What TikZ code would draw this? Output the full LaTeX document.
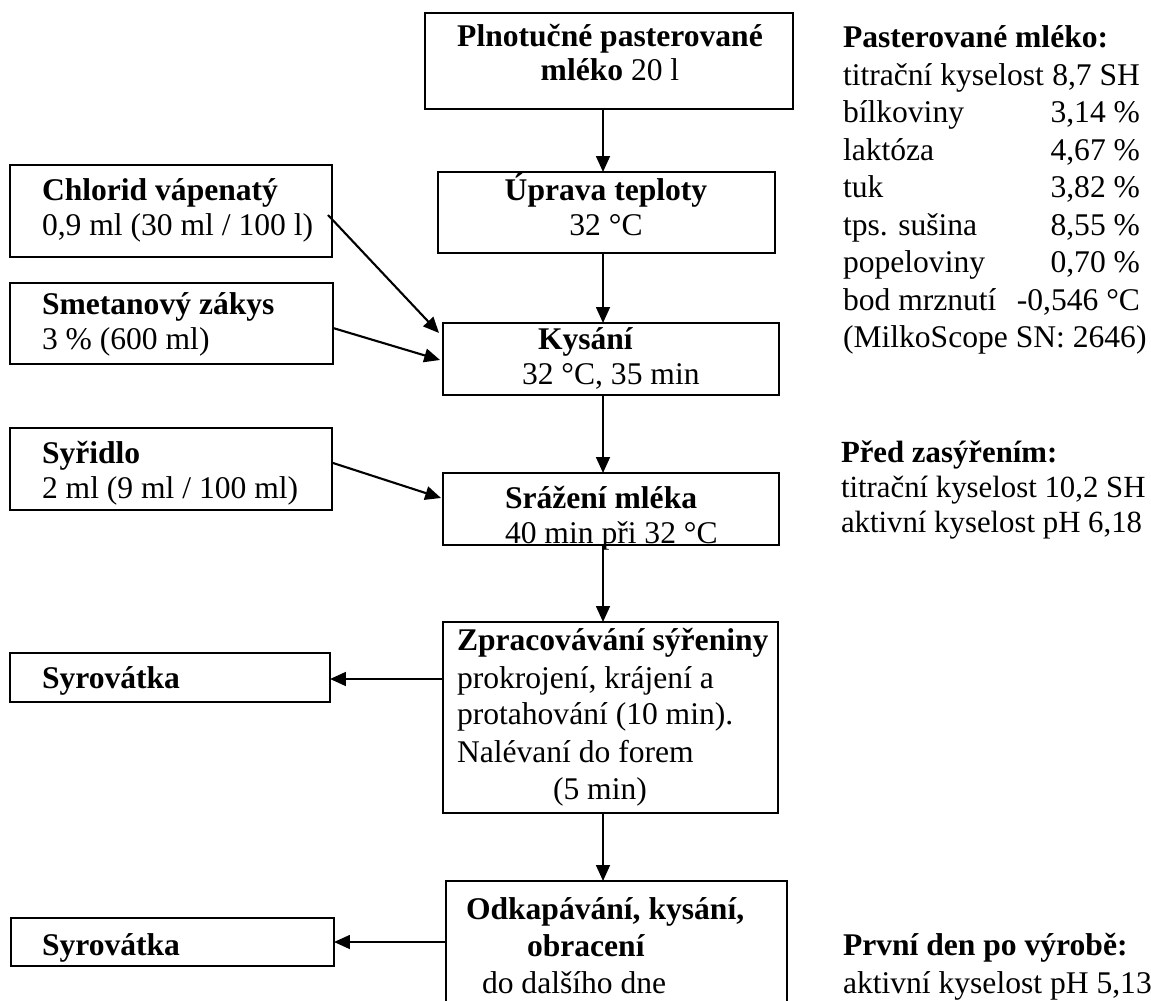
\documentclass[tikz,border=0pt]{standalone}
\usepackage{fontspec}
\setmainfont{Liberation Serif}
\usetikzlibrary{arrows.meta,fit,calc}

% one drawing unit
\newlength\ux
\setlength\ux{0.38pt}
% stack of lines with a fixed distance between baselines
\newcommand{\lineblock}[2]{\vtop{\baselineskip=#1\ux\lineskiplimit=-\maxdimen\lineskip=0pt #2}}
% label on the left, value flush right
\newcommand{\valrow}[2]{\hbox to 297\ux{#1\hfill #2}}

\tikzset{
  box/.style={draw, line width=0.8pt, rectangle, inner sep=0pt, outer sep=0pt},
  txt/.style={anchor=base west, inner sep=0pt, outer sep=0pt, font=\fontsize{12}{14}\selectfont},
  txtc/.style={anchor=base, inner sep=0pt, outer sep=0pt, font=\fontsize{12}{14}\selectfont},
  arr/.style={-{Triangle[length=6pt,width=5.2pt]}, line width=0.8pt},
}

\begin{document}
\begin{tikzpicture}[x=0.38pt, y=-0.38pt]
\clip (0,0) rectangle (1151,1001);
\fill[white] (0,0) rectangle (1151,1001);

\coordinate (axis) at (603,0);

% ---- main process chain ----
\node[box, fit={(425,13) (793,109)}] (milk) {};
\node[txtc] at (610,47) (milkT) {\lineblock{34}{%
  \hbox to 340\ux{\hss\textbf{Plnotučné pasterované}\hss}%
  \hbox to 340\ux{\hss\textbf{mléko} 20~l\hss}}};

\node[box, fit={(438,172) (775,253)}] (temp) {};
\node[txtc] at (606,201) (tempT) {\lineblock{35}{%
  \hbox to 300\ux{\hss\textbf{Úprava teploty}\hss}%
  \hbox to 300\ux{\hss 32~°C\hss}}};

\node[box, fit={(443,323) (779,395)}] (sour) {};
\node[txt] at (522,350) (sourT) {\lineblock{35}{%
  \hbox{\hspace*{16\ux}\textbf{Kysání}}%
  \hbox{32~°C, 35~min}}};

\node[box, fit={(443,473) (779,545)}] (curd) {};
\node[txt] at (505,509) (curdT) {\lineblock{35}{%
  \hbox{\textbf{Srážení mléka}}%
  \hbox{40 min při 32~°C}}};

\node[box, fit={(443,622) (778,813)}] (proc) {};
\node[txt] at (457,651) (procT) {\lineblock{37}{%
  \hbox{\textbf{Zpracovávání sýřeniny}}%
  \hbox{prokrojení, krájení a}%
  \hbox{protahování (10 min).}%
  \hbox{Nalévaní do forem}%
  \hbox{\hspace*{96\ux}(5 min)}}};

\node[box, fit={(446,881) (787,1020)}] (drip) {};
\node[txt] at (466,919) (dripT) {\lineblock{37}{%
  \hbox{\textbf{Odkapávání, kysání,}}%
  \hbox{\hspace*{61\ux}\textbf{obracení}}%
  \hbox{\hspace*{16\ux}do dalšího dne}}};

% ---- inputs ----
\node[box, fit={(10,165) (332,257)}] (cacl) {};
\node[txt] at (42,201) (caclT) {\lineblock{35}{%
  \hbox{\textbf{Chlorid vápenatý}}%
  \hbox{0,9 ml (30 ml / 100 l)}}};

\node[box, fit={(10,283) (333,364)}] (cult) {};
\node[txt] at (42,315) (cultT) {\lineblock{35}{%
  \hbox{\textbf{Smetanový zákys}}%
  \hbox{3~\% (600 ml)}}};

\node[box, fit={(10,428) (332,510)}] (rennet) {};
\node[txt] at (42,464) (rennetT) {\lineblock{35}{%
  \hbox{\textbf{Syřidlo}}%
  \hbox{2 ml (9 ml / 100 ml)}}};

% ---- outputs ----
\node[box, fit={(10,653) (330,702)}] (whey1) {};
\node[txt] at (42,688) (whey1T) {\textbf{Syrovátka}};

\node[box, fit={(11,918) (334,966)}] (whey2) {};
\node[txt] at (42,955) (whey2T) {\textbf{Syrovátka}};

% ---- measured values ----
\node[txt] at (843,48) (milkData) {\lineblock{37.5}{%
  \hbox{\textbf{Pasterované mléko:}}%
  \valrow{titrační kyselost}{8,7 SH}%
  \valrow{bílkoviny}{3,14~\%}%
  \valrow{laktóza}{4,67~\%}%
  \valrow{tuk}{3,82~\%}%
  \valrow{tps. sušina}{8,55~\%}%
  \valrow{popeloviny}{0,70~\%}%
  \valrow{bod mrznutí}{-0,546~°C}%
  \hbox{(MilkoScope SN: 2646)}}};

\node[txt, font=\fontsize{11.7}{14}\selectfont] at (841,463) (preData) {\lineblock{35}{%
  \hbox{\textbf{Před zasýřením:}}%
  \hbox{titrační kyselost 10,2 SH}%
  \hbox{aktivní kyselost pH 6,18}}};

\node[txt] at (843,955) (dayData) {\lineblock{38}{%
  \hbox{\textbf{První den po výrobě:}}%
  \hbox{aktivní kyselost pH 5,13}}};

% ---- connectors ----
\draw[arr] (milk.south -| axis) -- (temp.north -| axis);
\draw[arr] (temp.south -| axis) -- (sour.north -| axis);
\draw[arr] (sour.south -| axis) -- (curd.north -| axis);
\draw[arr] (curd.south -| axis) -- (proc.north -| axis);
\draw[arr] (proc.south -| axis) -- (drip.north -| axis);

\draw[arr] ($(cacl.north east)+(-4,50)$) -- ($(sour.north west)+(-4,10)$);
\draw[arr] ($(cult.north east)+(0,45)$) -- ($(sour.north west)+(-3,37)$);
\draw[arr] ($(rennet.north east)+(1,35)$) -- ($(curd.north west)+(-2,25)$);

\draw[arr] ($(proc.north west)+(0,57)$) -- ($(whey1.north east)+(0,26)$);
\draw[arr] ($(drip.north west)+(0,61)$) -- ($(whey2.north east)+(0,24)$);
\end{tikzpicture}
\end{document}
